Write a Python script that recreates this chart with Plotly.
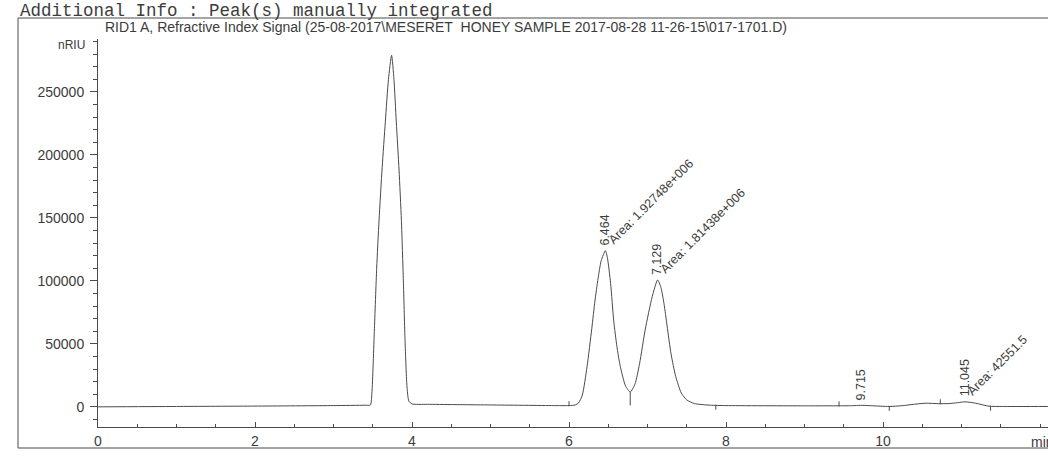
import numpy as np
import plotly.graph_objects as go

# ---------------- data ----------------
time_min = [0.00, 1.00, 2.00, 3.00, 3.40, 3.47, 3.49, 3.52, 3.55, 3.58, 3.62, 3.66, 3.70,
            3.74, 3.77, 3.80, 3.835, 3.865, 3.89, 3.91, 3.935, 3.96, 4.00, 4.20, 5.00,
            5.80, 6.00, 6.08, 6.12, 6.17, 6.23, 6.29, 6.33, 6.37, 6.41, 6.464, 6.49,
            6.53, 6.57, 6.61, 6.65, 6.72, 6.78, 6.84, 6.90, 6.97, 7.06, 7.129, 7.17,
            7.21, 7.25, 7.30, 7.36, 7.43, 7.50, 7.60, 7.80, 8.00, 9.00, 9.60, 9.715, 9.85,
            10.08, 10.24, 10.42, 10.55, 10.71, 10.84, 10.95, 11.045, 11.18, 11.35,
            11.52, 12.10]
signal_nriu = [0, 300, 600, 1000, 1300, 1500, 12000, 60000, 110000, 148000, 190000, 226000, 260000,
               279000, 260000, 226000, 188000, 148000, 100000, 55000, 17000, 4500, 2300, 2000, 1500,
               1000, 1000, 1500, 3000, 9400, 32000, 62000, 84000, 101800, 116000, 124000, 118000,
               98000, 68000, 48000, 33000, 16600, 11800, 18000, 34600, 61100, 87500, 100700, 95000,
               82000, 64000, 42000, 24000, 11000, 5500, 2600, 1300, 1000, 800, 900, 1200, 900,
               300, 900, 2200, 2900, 2500, 2600, 3300, 4000, 2900, 500,
               300, 300]

peak_rt = [6.464, 7.129, 9.715, 11.045]
peak_rt_labels = ["6.464", "7.129", "9.715", "11.045"]
peak_area_labels = ["Area: 1.92748e+006", "Area: 1.81438e+006", "", "Area: 42551.5"]

baseline_start_marks = [6.00, 9.44, 10.73]
baseline_end_marks = [7.87, 10.08, 11.37]
drop_line_marks = [6.78]

x_tick_vals = [0, 2, 4, 6, 8, 10]
y_tick_vals = [0, 50000, 100000, 150000, 200000, 250000]

header_cut = "(modified after loading)"
header_info = "Additional Info : Peak(s) manually integrated"
signal_title = "RID1 A, Refractive Index Signal (25-08-2017\\MESERET\u00a0 HONEY SAMPLE 2017-08-28 11-26-15\\017-1701.D)"
y_unit = "nRIU"
x_unit = "min"

# ---------------- geometry / style ----------------
W, H = 1048, 457
ML, MR, MT, MB = 98, 0, 39, 30
PW, PH = W - ML - MR, H - MT - MB
INK = "#3c3c3c"
LINE = "#4a4a4a"
SANS = "Liberation Sans, Arial, sans-serif"
MONO = "Liberation Mono, Courier New, monospace"


def px(xp):
    return (xp - ML) / PW


def py(yp):
    return (H - MB - yp) / PH


fig = go.Figure()

fig.add_trace(go.Scatter(x=time_min, y=signal_nriu, mode="lines",
                         line=dict(color=LINE, width=1, shape="spline", smoothing=0.6),
                         hoverinfo="skip", showlegend=False))

# integration baseline marks
t_arr = np.array(time_min, dtype=float)
s_arr = np.array(signal_nriu, dtype=float)
mx, my = [], []
for t in baseline_start_marks:
    s = float(np.interp(t, t_arr, s_arr))
    mx += [t, t, None]
    my += [s - 500, s + 3500, None]
for t in baseline_end_marks:
    s = float(np.interp(t, t_arr, s_arr))
    mx += [t, t, None]
    my += [s + 500, s - 3500, None]
for t in drop_line_marks:
    s = float(np.interp(t, t_arr, s_arr))
    t0 = max(v for v in baseline_start_marks if v < t)
    t1 = min(v for v in baseline_end_marks if v > t)
    b0 = float(np.interp(t0, t_arr, s_arr))
    b1 = float(np.interp(t1, t_arr, s_arr))
    b = b0 + (b1 - b0) * (t - t0) / (t1 - t0)
    mx += [t, t, None]
    my += [s, b, None]
fig.add_trace(go.Scatter(x=mx, y=my, mode="lines", line=dict(color=LINE, width=1),
                         hoverinfo="skip", showlegend=False))

annotations = []
for rt, lab, area in zip(peak_rt, peak_rt_labels, peak_area_labels):
    s = float(np.interp(rt, t_arr, s_arr))
    annotations.append(dict(x=rt, y=s, xref="x", yref="y", text=lab, showarrow=False,
                            textangle=-90, xanchor="center", yanchor="bottom", yshift=3,
                            font=dict(family=SANS, size=12.5, color=INK)))
    if area:
        annotations.append(dict(x=rt, y=s, xref="x", yref="y", text=area, showarrow=False,
                                textangle=-45, xanchor="left", yanchor="bottom",
                                xshift=-3, yshift=1,
                                font=dict(family=SANS, size=12.5, color=INK)))

# header texts
annotations.append(dict(x=px(205), y=py(-9), xref="paper", yref="paper", text=header_cut,
                        showarrow=False, xanchor="left", yanchor="middle",
                        font=dict(family=MONO, size=17.5, color=INK)))
annotations.append(dict(x=px(18), y=py(11), xref="paper", yref="paper", text=header_info,
                        showarrow=False, xanchor="left", yanchor="middle",
                        font=dict(family=MONO, size=17.5, color=INK)))
annotations.append(dict(x=px(103), y=py(27), xref="paper", yref="paper", text=signal_title,
                        showarrow=False, xanchor="left", yanchor="middle",
                        font=dict(family=SANS, size=14, color=INK)))
annotations.append(dict(x=px(87), y=py(45), xref="paper", yref="paper", text=y_unit,
                        showarrow=False, xanchor="right", yanchor="middle",
                        font=dict(family=SANS, size=12, color=INK)))
annotations.append(dict(x=px(1029), y=py(441.5), xref="paper", yref="paper", text=x_unit,
                        showarrow=False, xanchor="left", yanchor="middle",
                        font=dict(family=SANS, size=14, color=INK)))

# report frame
frame = dict(type="line", xref="paper", yref="paper", line=dict(color=LINE, width=1))
shapes = [
    dict(frame, x0=px(18), x1=px(W + 5), y0=py(18), y1=py(18)),
    dict(frame, x0=px(18), x1=px(18), y0=py(18), y1=py(448)),
    dict(frame, x0=px(18), x1=px(W + 5), y0=py(448), y1=py(448)),
]

fig.update_layout(
    width=W, height=H,
    margin=dict(l=ML, r=MR, t=MT, b=MB, pad=0),
    paper_bgcolor="white", plot_bgcolor="white",
    showlegend=False,
    annotations=annotations,
    shapes=shapes,
    font=dict(family=SANS, color=INK),
    xaxis=dict(range=[0, PW / 78.5], tickmode="array", tickvals=x_tick_vals,
               ticktext=[str(v) for v in x_tick_vals],
               showgrid=False, zeroline=False, showline=True, linecolor=LINE, linewidth=1,
               ticks="inside", ticklen=5, tickcolor=LINE, tickwidth=1,
               minor=dict(tickmode="linear", tick0=0, dtick=0.5, ticks="inside", ticklen=3,
                          tickcolor=LINE, showgrid=False),
               tickfont=dict(family=SANS, size=14, color=INK), ticklabelstandoff=1),
    yaxis=dict(range=[-16000, 292000], tickmode="array", tickvals=y_tick_vals,
               ticktext=[str(v) for v in y_tick_vals],
               showgrid=False, zeroline=False, showline=True, linecolor=LINE, linewidth=1,
               ticks="outside", ticklen=7, tickcolor=LINE, tickwidth=1,
               minor=dict(tickmode="linear", tick0=0, dtick=10000, ticks="outside", ticklen=4,
                          tickcolor=LINE, showgrid=False),
               tickfont=dict(family=SANS, size=14, color=INK), ticklabelstandoff=3),
)

fig.write_html("out.html")
